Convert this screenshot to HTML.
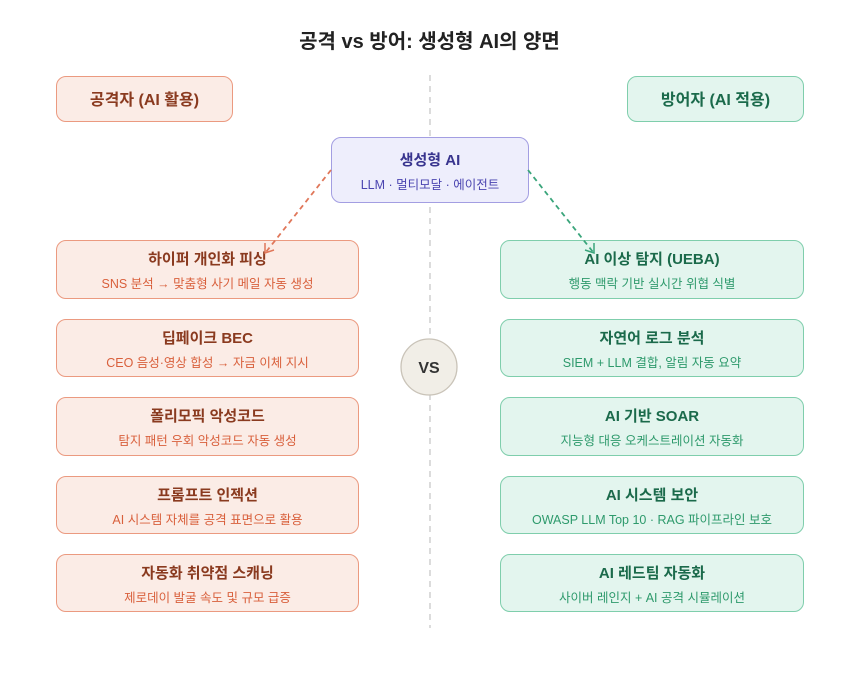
<!DOCTYPE html>
<html><head><meta charset="utf-8"><style>
body{margin:0;width:859px;height:683px;background:#fff;position:relative;font-family:"Liberation Sans","Noto Sans CJK KR",sans-serif;overflow:hidden}
.b{position:absolute;box-sizing:border-box;border-radius:10px;text-align:center}
.L{background:#fbece6;border:1.5px solid #eb9a80}
.R{background:#e3f5ee;border:1.5px solid #7fceac}
.t{font-weight:bold;font-size:15px;line-height:18px;margin-top:10px}
.s{font-size:12.5px;line-height:16px;margin-top:7px}
.L .t{color:#8a3a1f}.L .s{color:#d9603c}
.R .t{color:#1b6a4b}.R .s{color:#2e9a6c}
.h{font-weight:bold;font-size:16px;line-height:48px}
</style></head><body>
<div style="position:absolute;left:0;width:859px;top:29px;line-height:26px;text-align:center;font-weight:bold;font-size:20px;color:#222">공격 vs 방어: 생성형 AI의 양면</div>
<svg width="859" height="683" style="position:absolute;left:0;top:0">
<line x1="430" y1="75" x2="430" y2="628" stroke="#c8c8c8" stroke-width="1.3" stroke-dasharray="6,5"/>
</svg>
<div class="b L h" style="left:56px;top:76px;width:177px;height:46px;color:#8a3a1f">공격자 (AI 활용)</div>
<div class="b R h" style="left:627px;top:76px;width:177px;height:46px;color:#1b6a4b">방어자 (AI 적용)</div>
<div class="b" style="left:331px;top:137px;width:198px;height:66px;background:#eeeefc;border:1.5px solid #a39ee2"><div class="t" style="color:#38348e;margin-top:14px">생성형 AI</div><div class="s" style="color:#4b45b0">LLM · 멀티모달 · 에이전트</div></div>

<div class="b L" style="left:56px;top:240px;width:303px;height:59px"><div class="t">하이퍼 개인화 피싱</div><div class="s">SNS 분석 → 맞춤형 사기 메일 자동 생성</div></div>
<div class="b L" style="left:56px;top:319px;width:303px;height:58px"><div class="t">딥페이크 BEC</div><div class="s">CEO 음성·영상 합성 → 자금 이체 지시</div></div>
<div class="b L" style="left:56px;top:397px;width:303px;height:59px"><div class="t">폴리모픽 악성코드</div><div class="s">탐지 패턴 우회 악성코드 자동 생성</div></div>
<div class="b L" style="left:56px;top:476px;width:303px;height:58px"><div class="t">프롬프트 인젝션</div><div class="s">AI 시스템 자체를 공격 표면으로 활용</div></div>
<div class="b L" style="left:56px;top:554px;width:303px;height:58px"><div class="t">자동화 취약점 스캐닝</div><div class="s">제로데이 발굴 속도 및 규모 급증</div></div>

<div class="b R" style="left:500px;top:240px;width:304px;height:59px"><div class="t">AI 이상 탐지 (UEBA)</div><div class="s">행동 맥락 기반 실시간 위협 식별</div></div>
<div class="b R" style="left:500px;top:319px;width:304px;height:58px"><div class="t">자연어 로그 분석</div><div class="s">SIEM + LLM 결합, 알림 자동 요약</div></div>
<div class="b R" style="left:500px;top:397px;width:304px;height:59px"><div class="t">AI 기반 SOAR</div><div class="s">지능형 대응 오케스트레이션 자동화</div></div>
<div class="b R" style="left:500px;top:476px;width:304px;height:58px"><div class="t">AI 시스템 보안</div><div class="s">OWASP LLM Top 10 · RAG 파이프라인 보호</div></div>
<div class="b R" style="left:500px;top:554px;width:304px;height:58px"><div class="t">AI 레드팀 자동화</div><div class="s">사이버 레인지 + AI 공격 시뮬레이션</div></div>
<svg width="859" height="683" style="position:absolute;left:0;top:0">
<line x1="331" y1="170" x2="266" y2="252" stroke="#e0775a" stroke-width="1.8" stroke-dasharray="5,4"/>
<polyline points="265,243 265,253 274,250" fill="none" stroke="#e0775a" stroke-width="1.5"/>
<line x1="528" y1="170" x2="593" y2="252" stroke="#3aa57b" stroke-width="1.8" stroke-dasharray="5,4"/>
<polyline points="594,243 594,253 585,250" fill="none" stroke="#3aa57b" stroke-width="1.5"/>
<circle cx="429" cy="367" r="28" fill="#f1eee7" stroke="#c9c3b8" stroke-width="1.3"/>
<text x="429" y="373" text-anchor="middle" font-family="Liberation Sans" font-weight="bold" font-size="16" fill="#333">VS</text>
</svg>
</body></html>
